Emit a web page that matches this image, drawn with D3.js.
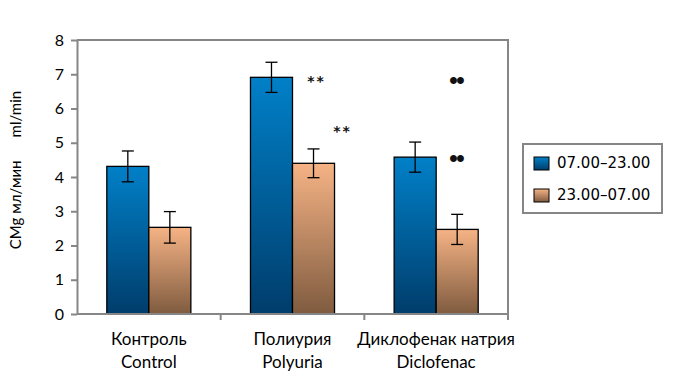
<!DOCTYPE html>
<html>
<head>
<meta charset="utf-8">
<script src="https://cdn.jsdelivr.net/npm/d3@7"></script>
<style>
  body { margin: 0; background: #fff; }
  svg { display: block; }
  .labels { font-family: Lato, "Open Sans", sans-serif; fill: #000; }
</style>
</head>
<body>
<svg class="barchart" width="680" height="385"></svg>
<script>
const categoriesRu = ['Контроль', 'Полиурия', 'Диклофенак натрия']
const categoriesEn = ['Control', 'Polyuria', 'Diclofenac']
const seriesNames = ['07.00–23.00', '23.00–07.00']
const dayValues = [4.31, 6.91, 4.58]
const dayErrors = [0.45, 0.44, 0.44]
const nightValues = [2.53, 4.40, 2.47]
const nightErrors = [0.46, 0.42, 0.44]
const yTicks = [0, 1, 2, 3, 4, 5, 6, 7, 8]

makeChart()

function makeChart() {
    const left = 77, right = 508, top = 40, bottom = 314
    const svg = d3.select('.barchart')

    const defs = svg.append('defs')
    const grads = [
        ['gradBlue', '#0180c8', '#003d6b'],
        ['gradOrange', '#f6b385', '#7f5b3f']
    ]
    grads.forEach(g => {
        const lg = defs.append('linearGradient')
            .attr('id', g[0])
            .attr('x1', 0).attr('y1', 0).attr('x2', 0).attr('y2', 1)
        lg.append('stop').attr('offset', '0%').attr('stop-color', g[1])
        lg.append('stop').attr('offset', '100%').attr('stop-color', g[2])
    })

    const yScale = d3.scaleLinear()
        .domain([0, 8])
        .range([bottom, top])

    const xScale = d3.scaleBand()
        .domain(categoriesRu)
        .range([left, right])
        .paddingInner(0.415)
        .paddingOuter(0.2075)

    const inner = d3.scaleBand()
        .domain([0, 1])
        .range([0, xScale.bandwidth()])

    // frame: top and right border
    svg.append('path')
        .attr('d', `M${left},${top}H${right}V${bottom}`)
        .attr('fill', 'none')
        .attr('stroke', '#868686')
        .attr('stroke-width', 2)

    // y axis
    const yAxis = svg.append('g')
        .attr('transform', `translate(${left}, 0)`)
        .call(d3.axisLeft(yScale).tickValues(yTicks).tickSize(6).tickPadding(7).tickSizeOuter(0))
    yAxis.select('.domain').attr('stroke', '#868686').attr('stroke-width', 2)
    yAxis.selectAll('.tick line').attr('stroke', '#868686').attr('stroke-width', 2)
    yAxis.selectAll('.tick text')
        .attr('class', 'labels')
        .style('font-size', '16px')

    // bars
    const series = [
        { vals: dayValues, errs: dayErrors, fill: 'url(#gradBlue)' },
        { vals: nightValues, errs: nightErrors, fill: 'url(#gradOrange)' }
    ]
    series.forEach((s, si) => {
        const g = svg.append('g')
        g.selectAll('rect')
            .data(s.vals)
            .join('rect')
            .attr('x', (d, i) => xScale(categoriesRu[i]) + inner(si))
            .attr('y', d => yScale(d))
            .attr('width', inner.bandwidth())
            .attr('height', d => yScale(0) - yScale(d))
            .attr('fill', s.fill)
            .attr('stroke', '#000')
            .attr('stroke-width', 1.3)
    })

    // x axis
    const xAxis = svg.append('g')
        .attr('transform', `translate(0, ${bottom})`)
    xAxis.append('line')
        .attr('x1', left).attr('x2', right)
        .attr('stroke', '#868686').attr('stroke-width', 2)
    const bounds = [left + xScale.step(), left + 2 * xScale.step(), right]
    xAxis.selectAll('.xt')
        .data(bounds)
        .join('line')
        .attr('class', 'xt')
        .attr('x1', d => d).attr('x2', d => d)
        .attr('y1', 0).attr('y2', 6)
        .attr('stroke', '#868686').attr('stroke-width', 2)

    // error bars
    series.forEach((s, si) => {
        const g = svg.append('g').attr('stroke', '#000').attr('stroke-width', 1.3)
        s.vals.forEach((v, i) => {
            const cx = xScale(categoriesRu[i]) + inner(si) + inner.bandwidth() / 2
            const y1 = yScale(v + s.errs[i]), y2 = yScale(v - s.errs[i])
            g.append('line').attr('x1', cx).attr('x2', cx).attr('y1', y1).attr('y2', y2)
            g.append('line').attr('x1', cx - 6).attr('x2', cx + 6).attr('y1', y1).attr('y2', y1)
            g.append('line').attr('x1', cx - 6).attr('x2', cx + 6).attr('y1', y2).attr('y2', y2)
        })
    })

    // x labels
    categoriesRu.forEach((c, i) => {
        const cx = xScale(c) + xScale.bandwidth() / 2
        svg.append('text')
            .attr('class', 'labels')
            .attr('x', cx).attr('y', 345)
            .attr('text-anchor', 'middle')
            .style('font-size', '17px')
            .text(c)
        svg.append('text')
            .attr('class', 'labels')
            .attr('x', cx).attr('y', 368)
            .attr('text-anchor', 'middle')
            .style('font-size', '17px')
            .text(categoriesEn[i])
    })

    // significance marks (dx = offset from bar centre)
    const marks = [
        { cat: 1, s: 0, y: 6.8, dx: 45, txt: '**' },
        { cat: 1, s: 1, y: 5.35, dx: 29, txt: '**' },
        { cat: 2, s: 1, y: 6.85, dx: -1, txt: '••' },
        { cat: 2, s: 1, y: 4.56, dx: -1, txt: '••' }
    ]
    marks.forEach(m => {
        const x0 = xScale(categoriesRu[m.cat]) + inner(m.s) + inner.bandwidth() / 2 + m.dx
        const star = m.txt === '**'
        svg.append('text')
            .attr('x', x0)
            .attr('y', yScale(m.y))
            .attr('text-anchor', 'middle')
            .attr('dominant-baseline', 'central')
            .style('font-family', star ? '"DejaVu Sans", sans-serif' : '"Liberation Sans", sans-serif')
            .style('font-size', star ? '14px' : '24px')
            .style('font-weight', 'bold')
            .style('letter-spacing', star ? '2px' : '-1.5px')
            .attr('fill', '#111')
            .text(m.txt)
    })

    // y title
    svg.append('text')
        .attr('class', 'labels')
        .attr('transform', 'translate(21, 170) rotate(-90)')
        .attr('text-anchor', 'middle')
        .style('font-size', '15px')
        .style('white-space', 'pre')
        .text('CMg мл/мин      ml/min')

    // legend
    const legend = svg.append('g')
    legend.append('rect')
        .attr('x', 523).attr('y', 144)
        .attr('width', 139).attr('height', 69)
        .attr('fill', 'none')
        .attr('stroke', '#868686')
        .attr('stroke-width', 2)
    seriesNames.forEach((n, i) => {
        legend.append('rect')
            .attr('x', 534).attr('y', 157 + i * 32)
            .attr('width', 15).attr('height', 13)
            .attr('fill', series[i].fill)
            .attr('stroke', '#000')
            .attr('stroke-width', 1)
        legend.append('text')
            .attr('x', 557).attr('y', 168 + i * 32)
            .style('font-family', '"DejaVu Sans", sans-serif')
            .style('font-size', '15px')
            .attr('fill', '#000')
            .text(n)
    })
}
</script>
</body>
</html>
